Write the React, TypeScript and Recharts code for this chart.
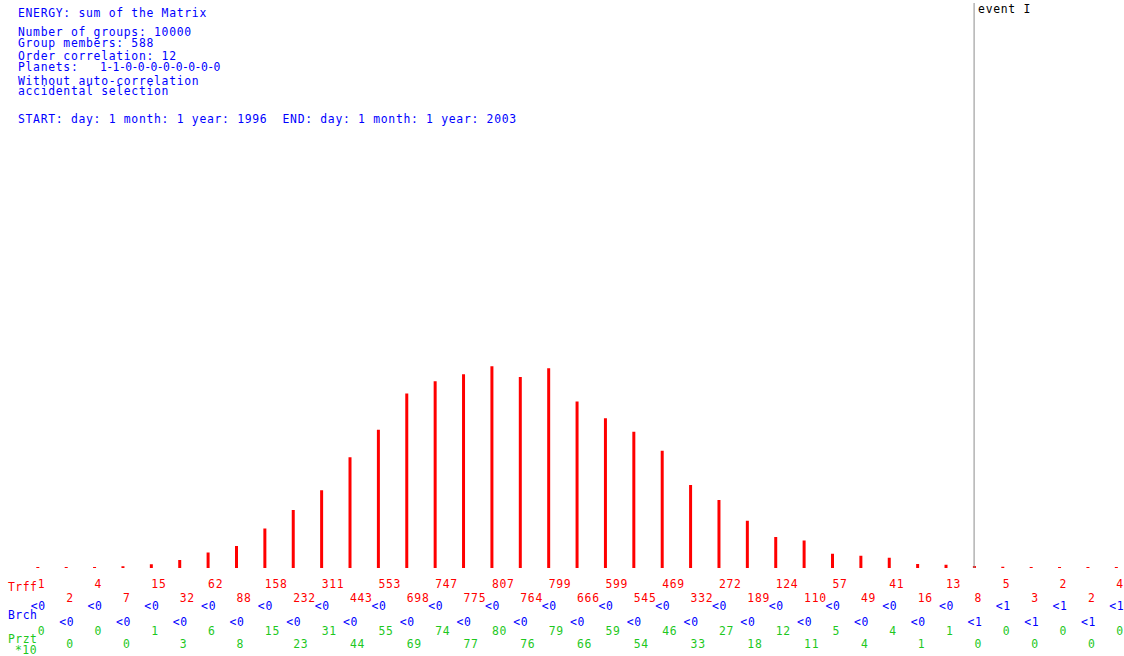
import React from "react";
import { BarChart, Bar, XAxis, YAxis, ReferenceLine, LabelList } from "recharts";

// per-class counts (Trff), below-chance markers (Brch) and percent*10 (Przt)
const classIdx = [
  0, 1, 2, 3, 4, 5, 6, 7, 8, 9, 10, 11, 12, 13, 14, 15, 16, 17, 18, 19,
  20, 21, 22, 23, 24, 25, 26, 27, 28, 29, 30, 31, 32, 33, 34, 35, 36, 37, 38,
];
const trff = [
  1, 2, 4, 7, 15, 32, 62, 88, 158, 232, 311, 443, 553, 698, 747, 775, 807,
  764, 799, 666, 599, 545, 469, 332, 272, 189, 124, 110, 57, 49, 41, 16, 13,
  8, 5, 3, 2, 2, 4,
];
const brch = [
  "<0", "<0", "<0", "<0", "<0", "<0", "<0", "<0", "<0", "<0", "<0", "<0",
  "<0", "<0", "<0", "<0", "<0", "<0", "<0", "<0", "<0", "<0", "<0", "<0",
  "<0", "<0", "<0", "<0", "<0", "<0", "<0", "<0", "<0", "<1", "<1", "<1",
  "<1", "<1", "<1",
];
const przt = [
  0, 0, 0, 0, 1, 3, 6, 8, 15, 23, 31, 44, 55, 69, 74, 77, 80, 76, 79, 66, 59,
  54, 46, 33, 27, 18, 12, 11, 5, 4, 4, 1, 1, 0, 0, 0, 0, 0, 0,
];
const eventIdx = 33;

const headerLines = [
  { text: "ENERGY: sum of the Matrix", y: 16.7 },
  { text: "Number of groups: 10000", y: 35.7 },
  { text: "Group members: 588", y: 47.3 },
  { text: "Order correlation: 12", y: 59.5 },
  { text: "Planets:", y: 71 },
  { text: "Without auto-correlation", y: 85.3 },
  { text: "accidental selection", y: 95 },
  { text: "START: day: 1 month: 1 year: 1996  END: day: 1 month: 1 year: 2003", y: 123 },
];
const planets = "1-1-0-0-0-0-0-0-0-0";

const data = classIdx.map((i) => ({
  i,
  trff: trff[i],
  brch: brch[i],
  przt: przt[i],
}));

const MONO = "'DejaVu Sans Mono', monospace";
const RED = "#ff0000";
const BLUE = "#0000ff";
const GREEN = "#1ec81e";

const rowLabel =
  (color: string, yEven: number, yOdd: number, shift = 0) =>
  (props: any) => {
    const { x, width, value, index } = props;
    const cx = Number(x) + Number(width) / 2;
    return (
      <text
        x={cx + shift}
        y={index % 2 === 0 ? yEven : yOdd}
        fill={color}
        fontFamily={MONO}
        fontSize={11.4}
        letterSpacing={0.7}
        textAnchor="start"
      >
        {value}
      </text>
    );
  };

const sideLabels = [
  { text: "Trff", x: 8, y: 591, color: RED },
  { text: "Brch", x: 8, y: 619, color: BLUE },
  { text: "Przt", x: 8, y: 643, color: GREEN },
  { text: "*10", x: 15, y: 653.5, color: GREEN },
];

export default function App() {
  return (
    <div style={{ position: "absolute", left: 0, top: 0, width: 1124, height: 656, background: "#fff" }}>
      <BarChart
        width={1124}
        height={656}
        data={data}
        margin={{ top: 3, right: 8, bottom: 88, left: 37.5 }}
      >
        <XAxis dataKey="i" type="number" domain={[0, 38]} hide />
        <YAxis type="number" domain={[0, 2260]} hide />
        <ReferenceLine
          x={eventIdx}
          stroke="#8c8c8c"
          strokeWidth={1}
          label={(p: any) => (
            <text
              x={p.viewBox.x + 4}
              y={p.viewBox.y + 10}
              fill="#000"
              fontFamily={MONO}
              fontSize={11.4}
              letterSpacing={0.7}
            >
              event I
            </text>
          )}
        />
        <Bar dataKey="trff" fill={RED} barSize={3} minPointSize={1} isAnimationActive={false}>
          <LabelList dataKey="trff" content={rowLabel(RED, 588, 602)} />
          <LabelList dataKey="brch" content={rowLabel(BLUE, 610, 626, -7)} />
          <LabelList dataKey="przt" content={rowLabel(GREEN, 635, 648)} />
        </Bar>
      </BarChart>
      <svg
        width={1124}
        height={656}
        style={{ position: "absolute", left: 0, top: 0, pointerEvents: "none" }}
      >
        {headerLines.map((l) => (
          <text
            key={l.text}
            x={18}
            y={l.y}
            fill={BLUE}
            fontFamily={MONO}
            fontSize={11.4}
            letterSpacing={0.7}
            style={{ whiteSpace: "pre" }}
          >
            {l.text}
          </text>
        ))}
        <text x={100} y={71} fill={BLUE} fontFamily={MONO} fontSize={11.4} letterSpacing={-0.55}>
          {planets}
        </text>
        {sideLabels.map((l) => (
          <text key={l.text} x={l.x} y={l.y} fill={l.color} fontFamily={MONO} fontSize={11.4} letterSpacing={0.5}>
            {l.text}
          </text>
        ))}
      </svg>
    </div>
  );
}
